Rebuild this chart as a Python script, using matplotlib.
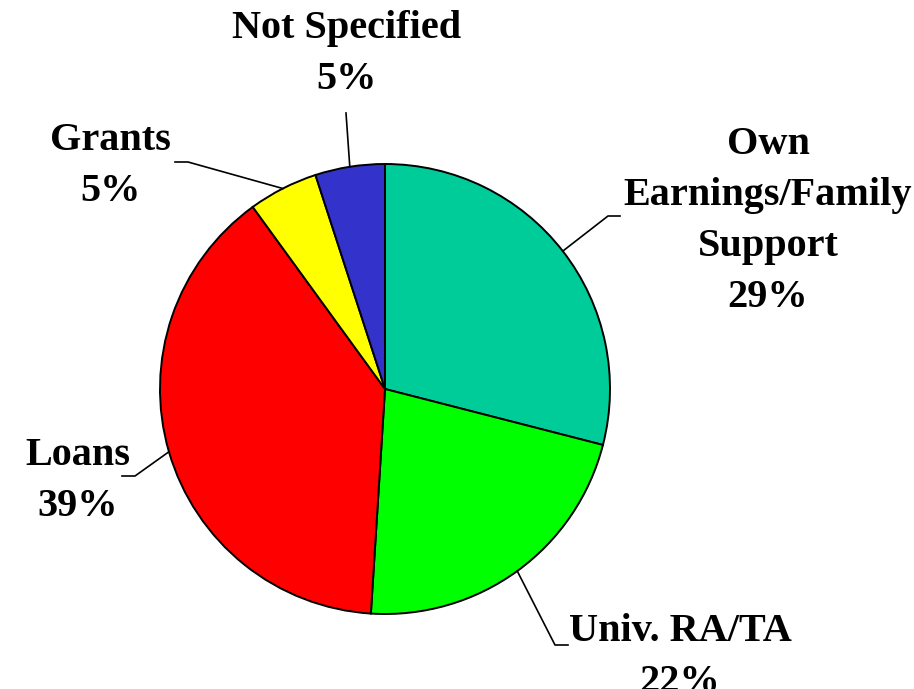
import numpy as np
import matplotlib
matplotlib.use('Agg')
import matplotlib.pyplot as plt

# data
labels = ['Own\nEarnings/Family\nSupport', 'Univ. RA/TA', 'Loans', 'Grants', 'Not Specified']
shares = [29, 22, 39, 5, 5]
colors = ['#00CC99', '#00FF00', '#FF0000', '#FFFF00', '#3333CC']

W, H = 914, 689
fig = plt.figure(figsize=(W / 100, H / 100), dpi=100)
ax = fig.add_axes([0, 0, 1, 1])

cx, cy, R = 385, H - 389, 225
wedges, _ = ax.pie(shares, colors=colors, startangle=90, counterclock=False,
                   center=(cx, cy), radius=R, frame=True,
                   wedgeprops=dict(edgecolor='black', linewidth=1.4))
ax.set_xlim(0, W)
ax.set_ylim(0, H)
ax.set_aspect('equal')
ax.axis('off')

# label placement (pixel coords, top-down y) and leader elbows
text_pos = [(768, 221), (680, 657), (78, 481), (110, 166), (347, 54)]
elbows = [[(608, 216), (620, 216)],
          [(555, 645), (568, 645)],
          [(135, 476), (122, 476)],
          [(188, 162), (175, 162)],
          [(346, 113)]]

for w, lab, s, (tx, ty), elb in zip(wedges, labels, shares, text_pos, elbows):
    mid = np.deg2rad((w.theta1 + w.theta2) / 2)
    x0 = cx + R * np.cos(mid)
    y0 = cy + R * np.sin(mid)
    xs = [x0] + [p[0] for p in elb]
    ys = [y0] + [H - p[1] for p in elb]
    ax.plot(xs, ys, color='black', lw=1.2)
    ax.text(tx, H - ty, f'{lab}\n{s}%', ha='center', va='center',
            fontsize=29, fontweight='bold', family='Liberation Serif',
            linespacing=1.5)

fig.savefig('out.png', dpi=100)
